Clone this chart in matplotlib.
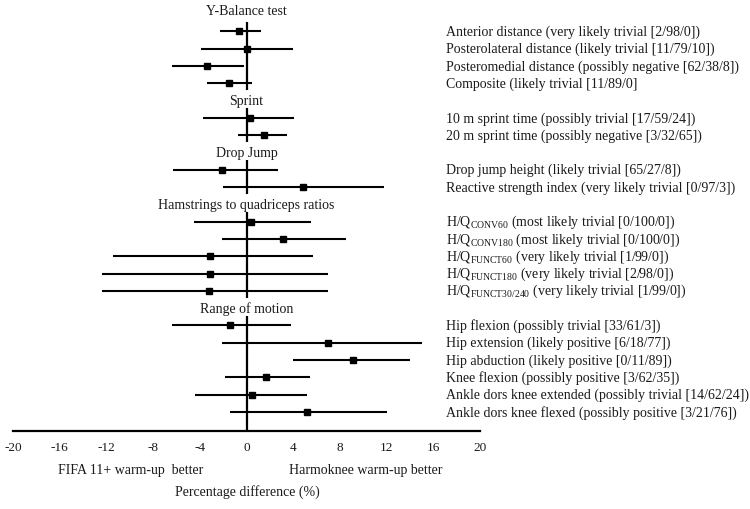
import numpy as np
import matplotlib
matplotlib.use("Agg")
import matplotlib.pyplot as plt

plt.rcParams['font.family'] = ['Liberation Serif', 'DejaVu Serif']
plt.rcParams['mathtext.fontset'] = 'custom'
plt.rcParams['mathtext.rm'] = 'Liberation Serif'

# sections: header, labels, point estimate, lower CI, upper CI
sec_titles = ["Y-Balance test", "Sprint", "Drop Jump",
              "Hamstrings to quadriceps ratios", "Range of motion"]

ybal_labels = ["Anterior distance (very likely trivial [2/98/0])",
               "Posterolateral distance (likely trivial [11/79/10])",
               "Posteromedial distance (possibly negative [62/38/8])",
               "Composite (likely trivial [11/89/0]"]
ybal_mean = [-0.6, 0.0, -3.4, -1.5]
ybal_lo = [-2.3, -3.9, -6.4, -3.4]
ybal_hi = [1.2, 4.0, -0.2, 0.5]

sprint_labels = ["10 m sprint time (possibly trivial [17/59/24])",
                 "20 m sprint time (possibly negative [3/32/65])"]
sprint_mean = [0.3, 1.5]
sprint_lo = [-3.7, -0.7]
sprint_hi = [4.1, 3.5]

dj_labels = ["Drop jump height (likely trivial [65/27/8])",
             "Reactive strength index (very likely trivial [0/97/3])"]
dj_mean = [-2.1, 4.8]
dj_lo = [-6.3, -2.0]
dj_hi = [2.7, 11.8]

hq_labels = [r"H/Q$_{\mathrm{CONV60}}$ (most likely trivial [0/100/0])",
             r"H/Q$_{\mathrm{CONV180}}$ (most likely trivial [0/100/0])",
             r"H/Q$_{\mathrm{FUNCT60}}$ (very likely trivial [1/99/0])",
             r"H/Q$_{\mathrm{FUNCT180}}$ (very likely trivial [2/98/0])",
             r"H/Q$_{\mathrm{FUNCT30/240}}$ (very likely trivial [1/99/0])"]
hq_mean = [0.4, 3.1, -3.1, -3.1, -3.2]
hq_lo = [-4.5, -2.1, -11.4, -12.4, -12.4]
hq_hi = [5.5, 8.5, 5.7, 7.0, 7.0]

rom_labels = ["Hip flexion (possibly trivial [33/61/3])",
              "Hip extension (likely positive [6/18/77])",
              "Hip abduction (likely positive [0/11/89])",
              "Knee flexion (possibly positive [3/62/35])",
              "Ankle dors knee extended (possibly trivial [14/62/24])",
              "Ankle dors knee flexed (possibly positive [3/21/76])"]
rom_mean = [-1.4, 7.0, 9.1, 1.7, 0.5, 5.2]
rom_lo = [-6.4, -2.1, 4.0, -1.8, -4.4, -1.4]
rom_hi = [3.8, 15.0, 14.0, 5.4, 5.2, 12.0]

sections = [
    (ybal_labels, ybal_mean, ybal_lo, ybal_hi),
    (sprint_labels, sprint_mean, sprint_lo, sprint_hi),
    (dj_labels, dj_mean, dj_lo, dj_hi),
    (hq_labels, hq_mean, hq_lo, hq_hi),
    (rom_labels, rom_mean, rom_lo, rom_hi),
]

xticks = np.arange(-20, 21, 4)

fig = plt.figure(figsize=(7.5, 5.1), dpi=100)
# axes spans full height; x range -20..20 maps to px 13..480
ax = fig.add_axes([13 / 750, 0, 467 / 750, 1])
ax.set_xlim(-20, 20)
ax.set_ylim(28.61, -0.867)

fs = 10
txt = '#1a1a1a'
axis_y = 24.1
label_x = 17.1

slot = 0
for title, (labels, mean, lo, hi) in zip(sec_titles, sections):
    hy = slot - 0.2 if slot == 0 else slot
    ax.text(0, hy, title, ha='center', va='center', fontsize=fs, color=txt)
    rows = np.arange(slot + 1, slot + 1 + len(labels))
    ax.hlines(rows, lo, hi, color='black', lw=1.5)
    ax.plot(mean, rows, 's', color='black', ms=4.8)
    for r, lab in zip(rows, labels):
        ax.text(label_x, r, lab, ha='left', va='center', fontsize=fs, color=txt)
    end = axis_y if title == sec_titles[-1] else rows[-1] + 0.42
    ax.vlines(0, rows[0] - 0.55, end, color='black', lw=1.6)
    slot = rows[-1] + 1

for s in ['top', 'right', 'left']:
    ax.spines[s].set_visible(False)
ax.spines['bottom'].set_position(('data', axis_y))
ax.spines['bottom'].set_linewidth(1.6)
ax.set_xticks(xticks)
ax.set_xticklabels([str(t) for t in xticks])
ax.tick_params(axis='x', length=0, pad=7, labelsize=9.5, colors=txt)
ax.set_yticks([])
ax.patch.set_visible(False)

ax.text(-9.9, 26.3, "FIFA 11+ warm-up  better", ha='center', va='center', fontsize=fs, color=txt)
ax.text(10.2, 26.3, "Harmoknee warm-up better", ha='center', va='center', fontsize=fs, color=txt)
ax.text(0.1, 27.57, "Percentage difference (%)", ha='center', va='center', fontsize=fs, color=txt)

fig.savefig("out.png", dpi=100)
